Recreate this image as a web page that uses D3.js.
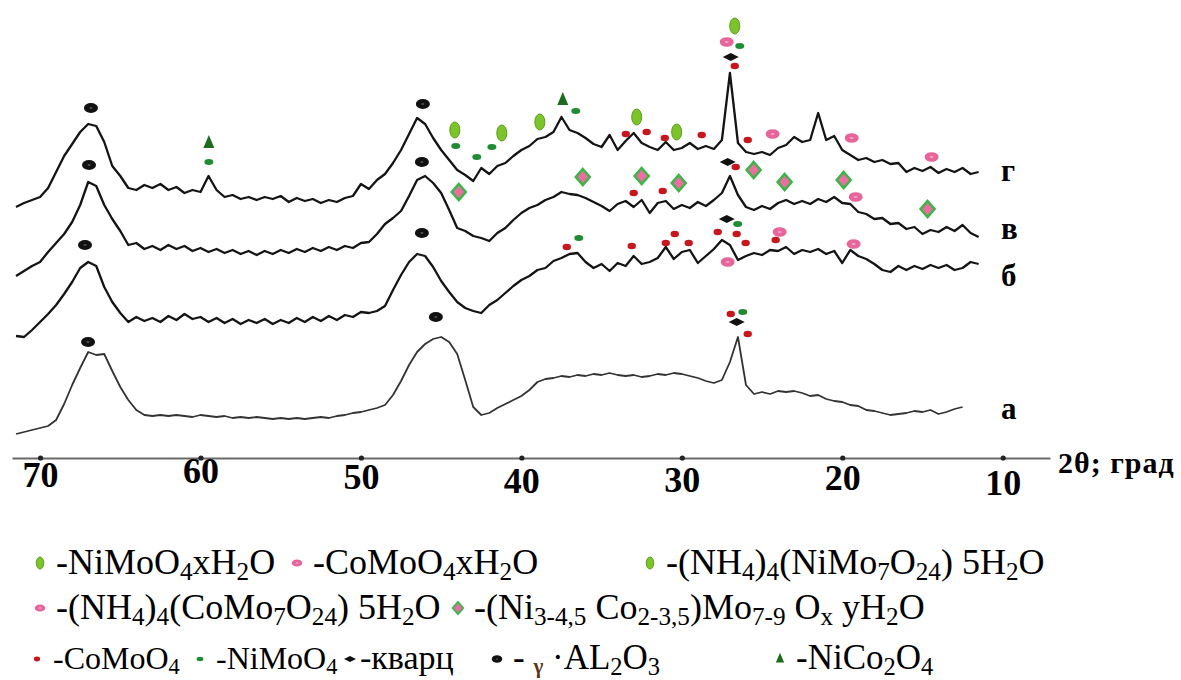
<!DOCTYPE html>
<html>
<head>
<meta charset="utf-8">
<script src="https://cdn.jsdelivr.net/npm/d3@7/dist/d3.min.js"></script>
<style>
  body { margin: 0; background: #fff; }
  svg { display: block; }
  text { font-family: "Liberation Serif", "Times New Roman", serif; }
</style>
</head>
<body>
<svg id="chart" width="1181" height="680"></svg>
<script>
// DATA

// 2-theta tick labels
var tickValues = [70, 60, 50, 40, 30, 20, 10];

// every pattern is sampled from 71.5 deg downwards, one point per 0.5 deg
var thetaStart = 71.5;
var thetaStep = 0.5;

// stacked intensities (a.u.)
var patternA = [26, 28, 30, 32, 34, 40, 56, 75, 92, 108,
  105, 106, 89, 73, 60, 50, 45, 44, 45, 44,
  45, 44, 43, 45, 44, 43, 44, 42, 43, 42,
  43, 42, 41, 42, 41, 42, 41, 42, 43, 42,
  44, 45, 47, 48, 50, 52, 55, 65, 79, 95,
  108, 116, 121, 123, 118, 106, 80, 53, 45, 47,
  52, 56, 60, 64, 70, 78, 81, 82, 84, 83,
  85, 84, 86, 85, 87, 85, 84, 85, 83, 84,
  86, 85, 87, 86, 84, 82, 79, 77, 80, 98,
  123, 75, 66, 68, 66, 69, 68, 69, 67, 64,
  65, 61, 59, 58, 55, 54, 50, 49, 47, 45,
  46, 47, 49, 48, 50, 46, 48, 51, 53];

var patternB = [124, 123, 130, 138, 146, 155, 166, 178, 192, 198,
  194, 173, 158, 147, 138, 143, 139, 142, 138, 144,
  140, 146, 141, 143, 138, 142, 137, 141, 136, 140,
  137, 141, 136, 140, 137, 142, 138, 143, 139, 144,
  140, 145, 143, 148, 147, 149, 154, 170, 185, 198,
  206, 204, 193, 179, 168, 158, 152, 149, 147, 155,
  160, 167, 174, 180, 184, 190, 192, 199, 202, 206,
  207, 198, 192, 196, 189, 197, 194, 204, 196, 198,
  202, 213, 201, 208, 210, 197, 204, 211, 220, 215,
  200, 204, 207, 205, 210, 209, 213, 206, 210, 208,
  211, 206, 209, 197, 210, 204, 201, 196, 190, 188,
  194, 190, 194, 191, 195, 192, 195, 190, 192, 198, 196];

var patternV = [184, 189, 194, 198, 208, 217, 226, 238, 255, 278,
  274, 255, 241, 229, 215, 217, 211, 214, 210, 215,
  211, 214, 209, 212, 208, 211, 207, 210, 206, 209,
  205, 209, 206, 210, 207, 211, 208, 212, 209, 213,
  210, 214, 212, 217, 218, 226, 236, 242, 249, 264,
  280, 284, 277, 267, 250, 232, 229, 224, 222, 219,
  227, 232, 240, 247, 252, 255, 260, 263, 268, 266,
  265, 262, 258, 254, 249, 256, 259, 253, 260, 247,
  257, 259, 251, 255, 252, 258, 254, 260, 267, 284,
  265, 253, 250, 254, 251, 257, 260, 256, 259, 256,
  261, 258, 263, 257, 256, 248, 246, 241, 242, 236,
  237, 231, 233, 226, 230, 228, 233, 229, 235, 227, 223];

var patternG = [253, 257, 260, 263, 272, 288, 304, 316, 328, 336,
  334, 318, 294, 284, 272, 270, 275, 272, 276, 270,
  273, 267, 270, 268, 284, 270, 263, 265, 261, 263,
  260, 263, 261, 264, 258, 262, 259, 261, 257, 260,
  258, 262, 264, 276, 271, 280, 286, 297, 310, 326,
  342, 336, 322, 310, 300, 290, 285, 279, 292, 286,
  294, 297, 304, 310, 314, 321, 323, 328, 343, 330,
  327, 322, 316, 313, 325, 310, 319, 327, 317, 313,
  310, 318, 310, 312, 317, 311, 314, 311, 320, 387,
  317, 308, 306, 308, 305, 312, 315, 323, 318, 320,
  347, 320, 324, 310, 305, 300, 302, 298, 300, 296,
  297, 288, 292, 289, 293, 287, 291, 288, 292, 286, 288];

var seriesNames = ['а', 'б', 'в', 'г'];

// identified reflections: [2theta, stacked intensity where the mark sits]
var peaksAl2O3 = [[66.83, 352], [46.14, 356], [66.95, 295], [46.2, 298],
  [67.2, 215], [46.2, 227], [67.01, 118], [45.33, 143]];
var peaksNiCo2O4 = [[59.48, 318], [37.42, 361]];
var peaksNiMoO4 = [[59.48, 298], [44.09, 314], [42.78, 303], [41.84, 313],
  [36.61, 349], [26.39, 414], [36.42, 222], [26.52, 236], [26.2, 148]];
var peaksCoMoO4 = [[33.49, 326], [32.19, 328], [31.06, 322], [28.76, 325],
  [26.7, 394], [25.89, 320], [33.0, 267], [31.19, 269], [26.64, 293],
  [37.17, 213], [33.12, 214], [31.0, 217], [30.44, 226], [29.57, 217],
  [27.76, 228], [26.58, 226], [26.02, 217], [24.15, 220], [26.95, 146], [25.89, 126]];
var peaksQuartz = [[26.95, 403], [27.14, 298], [27.2, 241], [26.58, 138]];
var peaksNiMoHydrate = [[44.15, 330], [41.22, 327], [38.85, 338], [32.81, 343],
  [30.32, 328], [26.7, 434]];
var peaksCoMoHydrate = [[27.2, 418], [24.34, 326], [19.41, 322], [14.43, 303],
  [19.16, 263], [27.14, 198], [23.9, 228], [19.29, 216]];
var peaksNiCoMo = [[43.9, 268], [36.17, 283], [32.5, 284], [30.19, 277],
  [25.52, 290], [23.59, 278], [19.91, 280], [14.68, 251]];

// legend: marker kind + formula (_{..} = subscript, *{..} = small letter)
var legendKinds = ['nimoHyd', 'comoHyd', 'nimoHyd', 'comoHyd', 'nicomo',
  'comoo4', 'nimoo4', 'quartz', 'al2o3', 'nico2o4'];
var legendTexts = [
  '-NiMoO_{4}xH_{2}O',
  '-CoMoO_{4}xH_{2}O',
  '-(NH_{4})_{4}(NiMo_{7}O_{24}) 5H_{2}O',
  '-(NH_{4})_{4}(CoMo_{7}O_{24}) 5H_{2}O',
  '-(Ni_{3-4,5} Co_{2-3,5})Mo_{7-9} O_{x} yH_{2}O',
  '-CoMoO_{4}',
  '-NiMoO_{4}',
  '-кварц',
  '- *{γ} ·AL_{2}O_{3}',
  '-NiCo_{2}O_{4}'
];

// SETUP

var svg = d3.select('#chart');
var axisY = 458;

var x = d3.scaleLinear()
  .domain([71.75, 7.05])
  .range([12, 1050]);

var y = d3.scaleLinear()
  .domain([0, 460])
  .range([460, 0]);

var drawPattern = d3.line()
  .x(function (d) { return x(d[0]); })
  .y(function (d) { return y(d[1]); });

function toPoints(values) {
  return values.map(function (v, i) {
    return [thetaStart - i * thetaStep, v];
  });
}

/**
 * Marker shapes, one per phase
 */
function drawMarker(g, kind, k) {
  k = k || 1;
  if (kind === 'al2o3') {
    g.append('ellipse').attr('rx', 7 * k).attr('ry', 5 * k).attr('fill', '#111');
    g.append('ellipse').attr('rx', 1.6 * k).attr('ry', 0.7 * k).attr('fill', '#666');
  } else if (kind === 'nico2o4') {
    g.append('path')
      .attr('d', 'M0,' + (-7 * k) + 'L' + (5.5 * k) + ',' + (6 * k) + 'L' + (-5.5 * k) + ',' + (6 * k) + 'Z')
      .attr('fill', '#1d6b1d');
  } else if (kind === 'nimoo4') {
    g.append('ellipse').attr('rx', 4.5 * k).attr('ry', 3 * k).attr('fill', '#1f8c34');
  } else if (kind === 'comoo4') {
    g.append('ellipse').attr('rx', 4.2 * k).attr('ry', 3.3 * k).attr('fill', '#c8161d');
  } else if (kind === 'quartz') {
    g.append('path')
      .attr('d', 'M' + (-8 * k) + ',0L0,' + (-4 * k) + 'L' + (8 * k) + ',0L0,' + (4 * k) + 'Z')
      .attr('fill', '#111');
  } else if (kind === 'nimoHyd') {
    g.append('ellipse').attr('rx', 5 * k).attr('ry', 8 * k)
      .attr('fill', '#7dc42a').attr('stroke', '#5a9e1c').attr('stroke-width', 1);
  } else if (kind === 'comoHyd') {
    g.append('ellipse').attr('rx', 7 * k).attr('ry', 4.8 * k).attr('fill', '#e6659a');
    g.append('ellipse').attr('rx', 2 * k).attr('ry', 1 * k).attr('fill', '#f2a6c4');
  } else if (kind === 'nicomo') {
    g.append('path')
      .attr('d', 'M0,' + (-8 * k) + 'L' + (7 * k) + ',0L0,' + (8 * k) + 'L' + (-7 * k) + ',0Z')
      .attr('fill', '#e8709f').attr('stroke', '#3cb548').attr('stroke-width', 2.5 * k);
  }
}

/**
 * Formula text with subscripts
 */
function writeFormula(textSel, str, size) {
  var parts = str.split(/(_\{[^}]*\}|\*\{[^}]*\})/);
  var shift = 0;
  parts.forEach(function (p) {
    if (!p) return;
    var t = textSel.append('tspan');
    if (p[0] === '_') {
      t.text(p.slice(2, -1)).attr('font-size', size * 0.7).attr('dy', 0.16 * size - shift);
      shift = 0.16 * size;
    } else if (p[0] === '*') {
      t.text(p.slice(2, -1)).attr('font-size', size * 0.6).attr('font-weight', 'bold')
        .attr('fill', '#5a3518').attr('dy', 0.1 * size - shift);
      shift = 0.1 * size;
    } else {
      t.text(p).attr('dy', -shift);
      shift = 0;
    }
  });
}

// PATTERNS

var patterns = [patternA, patternB, patternV, patternG];

var patternContainer = svg.append('g').attr('id', 'patterns');

patternContainer.selectAll('path.pattern')
  .data(patterns)
  .enter()
  .append('path')
  .attr('class', 'pattern')
  .attr('d', function (d) { return drawPattern(toPoints(d)); })
  .attr('fill', 'none')
  .attr('stroke', function (d, i) { return i === 0 ? '#333' : '#141414'; })
  .attr('stroke-width', function (d, i) { return i === 0 ? 1.8 : 2.3; })
  .attr('stroke-linejoin', 'round');

// curve letters at the right end of every pattern
var letterShift = [3, 13, -7, 0];
patternContainer.selectAll('text.series-label')
  .data(patterns)
  .enter()
  .append('text')
  .attr('class', 'series-label')
  .attr('x', 1001)
  .attr('y', function (d, i) { return y(d[d.length - 1]) + letterShift[i] + 9; })
  .attr('font-size', 31)
  .attr('font-weight', 'bold')
  .text(function (d, i) { return seriesNames[i]; });

// MARKERS

var markerSets = [
  ['al2o3', peaksAl2O3], ['nico2o4', peaksNiCo2O4], ['nimoo4', peaksNiMoO4],
  ['comoo4', peaksCoMoO4], ['quartz', peaksQuartz], ['nimoHyd', peaksNiMoHydrate],
  ['comoHyd', peaksCoMoHydrate], ['nicomo', peaksNiCoMo]
];

var markerContainer = svg.append('g').attr('id', 'markers');
markerSets.forEach(function (set) {
  set[1].forEach(function (p) {
    var g = markerContainer.append('g')
      .attr('transform', 'translate(' + x(p[0]) + ',' + y(p[1]) + ')');
    drawMarker(g, set[0]);
  });
});

// AXIS

var xAxis = d3.axisBottom(x)
  .tickValues(tickValues)
  .tickSize(0)
  .tickSizeOuter(0)
  .tickPadding(3)
  .tickFormat(d3.format('d'));

// the printed labels do not sit on one line
var tickLabelShift = [0, -4, 2, 6, 5, 3, 8];

var axisG = svg.append('g')
  .attr('transform', 'translate(0,' + axisY + ')')
  .call(xAxis);
axisG.select('.domain').attr('stroke', '#6a6a6a').attr('stroke-width', 2.2);
axisG.selectAll('.tick text')
  .attr('font-family', '"Liberation Serif", serif')
  .attr('font-size', 36)
  .attr('font-weight', 'bold')
  .attr('fill', '#000')
  .attr('y', function (d, i) { return 3 + tickLabelShift[i]; });
axisG.selectAll('.tick')
  .append('circle')
  .attr('r', 2.6)
  .attr('fill', '#222');

svg.append('text')
  .attr('x', 1058)
  .attr('y', 473)
  .attr('font-size', 30)
  .attr('font-weight', 'bold')
  .attr('letter-spacing', 1)
  .text('2θ; град');

// LEGEND

var legendPos = [[40, 563], [297, 563], [650, 563], [40, 608], [458, 608],
  [37, 659], [200, 659], [350, 659], [497, 659], [780, 658]];
var legendSizes = [36, 36, 36, 36, 36, 32, 32, 34, 35, 35];

var legend = svg.append('g').attr('id', 'legend');
legendKinds.forEach(function (kind, i) {
  var pos = legendPos[i];
  var size = legendSizes[i];
  var g = legend.append('g').attr('transform', 'translate(' + pos[0] + ',' + pos[1] + ')');
  drawMarker(g, kind, 0.75);
  var t = legend.append('text')
    .attr('x', pos[0] + (kind === 'quartz' ? 10 : 16))
    .attr('y', i < 5 ? pos[1] + 11 : 669)
    .attr('font-size', size);
  writeFormula(t, legendTexts[i], size);
});
</script>
</body>
</html>
